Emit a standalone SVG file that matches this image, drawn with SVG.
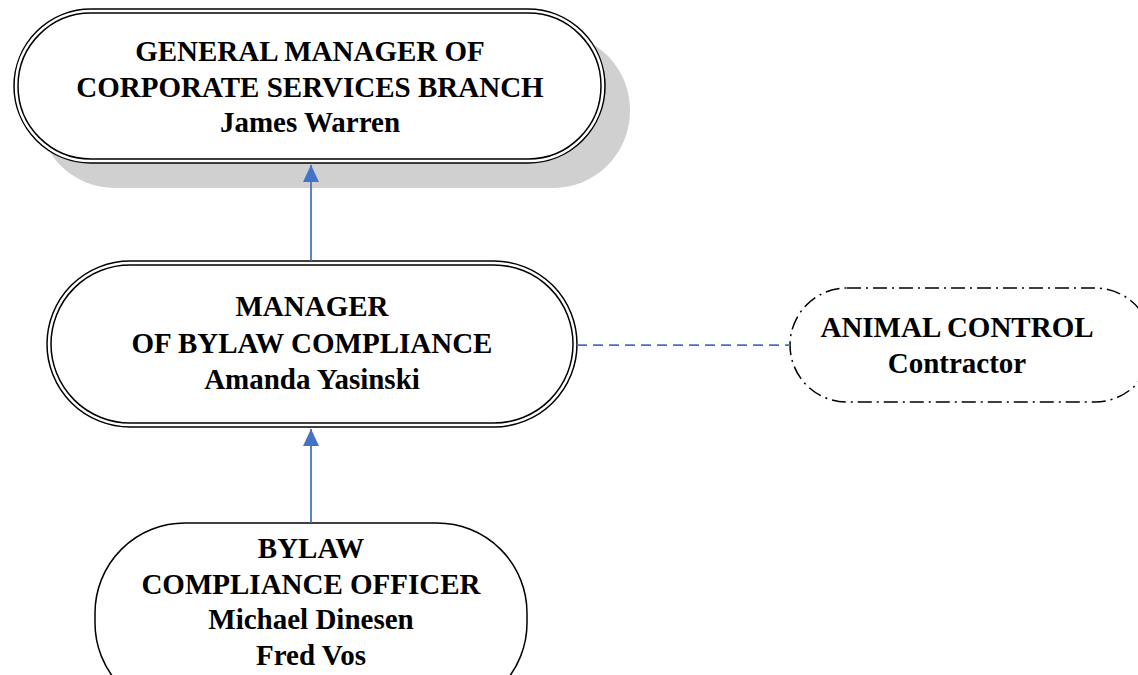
<svg xmlns="http://www.w3.org/2000/svg" width="1138" height="675" viewBox="0 0 1138 675">
<style>
.t{font-family:"Liberation Serif","Times New Roman",serif;font-weight:bold;font-size:29px;fill:#000;text-anchor:middle}
.o{fill:none;stroke:#000;stroke-width:1.5}
.w{fill:#fff;stroke:#000;stroke-width:1.5}
.c{stroke:#4472C4;stroke-width:1.75;fill:none}
</style>
<defs>
<marker id="ah" markerWidth="17" markerHeight="16" refX="17" refY="8" orient="auto" markerUnits="userSpaceOnUse" viewBox="0 0 17 16">
<path d="M0,0 L17,8 L0,16 z" fill="#4472C4"/>
</marker>
</defs>
<rect width="1138" height="675" fill="#fff"/>
<g id="gm">
<rect x="38" y="33" width="592" height="155" rx="77" fill="#d0d0d0"/>
<rect class="w" x="14" y="9" width="591" height="154" rx="77"/>
<rect class="o" x="18" y="13" width="583" height="146" rx="73"/>
<text class="t" x="310" y="61">GENERAL MANAGER OF</text>
<text class="t" x="310" y="97">CORPORATE SERVICES BRANCH</text>
<text class="t" x="310" y="132">James Warren</text>
</g>
<g id="mgr">
<rect class="w" x="47" y="261" width="530" height="166" rx="83"/>
<rect class="o" x="51" y="265" width="522" height="158" rx="79"/>
<text class="t" x="312" y="316">MANAGER</text>
<text class="t" x="312" y="353">OF BYLAW COMPLIANCE</text>
<text class="t" x="312" y="389">Amanda Yasinski</text>
</g>
<g id="officer">
<rect class="w" x="95" y="523" width="432" height="190" rx="90"/>
<text class="t" x="311" y="558">BYLAW</text>
<text class="t" x="311" y="594">COMPLIANCE OFFICER</text>
<text class="t" x="311" y="629">Michael Dinesen</text>
<text class="t" x="311" y="665">Fred Vos</text>
</g>
<g id="animal">
<rect x="790" y="288" width="362" height="114" rx="57" fill="#fff" stroke="#000" stroke-width="1.5" stroke-dasharray="14,5,2,5"/>
<text class="t" x="957" y="337">ANIMAL CONTROL</text>
<text class="t" x="957" y="373">Contractor</text>
</g>
<g id="connectors">
<line class="c" x1="311" y1="261" x2="311" y2="165" marker-end="url(#ah)"/>
<line class="c" x1="311" y1="523" x2="311" y2="429" marker-end="url(#ah)"/>
<line class="c" x1="577" y1="345" x2="790" y2="345" stroke-dasharray="10,6"/>
</g>
</svg>
